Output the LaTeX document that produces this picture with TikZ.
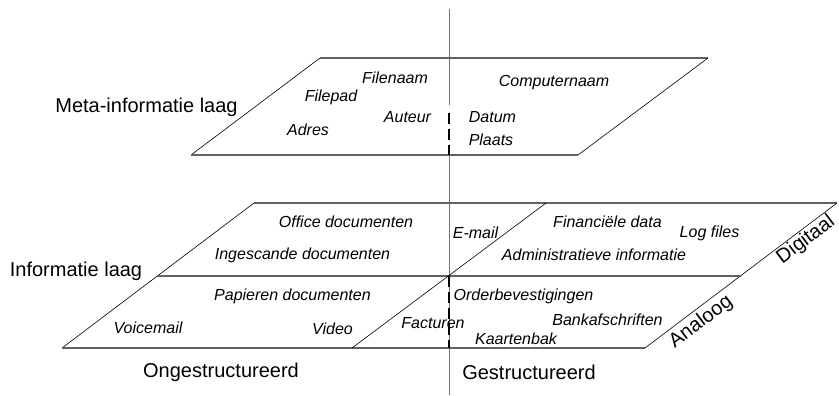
\documentclass[tikz,border=0pt]{standalone}
\usepackage{fontspec}
\setmainfont{Liberation Sans}
\begin{document}
\begin{tikzpicture}[x=1bp,y=-1bp,
  edge/.style={draw=black!62, line width=1.1bp},
  slant/.style={draw=black, line width=0.6bp},
  axis/.style={draw=black!55, line width=1bp},
  dashseg/.style={draw=black, line width=2.4bp, dash pattern=on 11bp off 5bp},
  lbl/.style={font=\fontsize{16bp}{18bp}\selectfont\itshape, inner sep=0pt},
  big/.style={font=\fontsize{20bp}{22bp}\selectfont, inner sep=0pt}]
\useasboundingbox (0,0) rectangle (839,395);
% corners
\coordinate (mbl) at (191,155);
\coordinate (mbr) at (578,155);
\coordinate (mtr) at (708,58);
\coordinate (mtl) at (320,58);
\coordinate (ibl) at (62,348);
\coordinate (ibr) at (645,348);
\coordinate (itr) at (837,203);
\coordinate (itl) at (254,203);
\coordinate (iml) at (157,276);
\coordinate (imr) at (741,276);
\coordinate (dbot) at (352,348);
\coordinate (dtop) at (546,203);
\coordinate (vtop) at (449,9);
\coordinate (vmeta) at (449,105);
\coordinate (dm1) at (449,113);
\coordinate (dm2) at (449,155);
\coordinate (dl1) at (449,276);
\coordinate (dl2) at (449,348);
\coordinate (vbot) at (449,395);
% vertical axis
\draw[axis] (vtop) -- (vmeta);
\draw[axis] (dm2) -- (vbot);
% meta plane
\draw[slant] (mbl) -- (mtl);
\draw[edge] (mtl) -- (mtr);
\draw[slant] (mtr) -- (mbr);
\draw[edge] (mbr) -- (mbl);
% info plane
\draw[slant] (ibl) -- (itl);
\draw[edge] (itl) -- (itr);
\draw[slant] (itr) -- (ibr);
\draw[edge] (ibr) -- (ibl);
\draw[edge] (iml) -- (imr);
\draw[slant] (dbot) -- (dtop);
% dashed segments
\draw[dashseg] (dm1) -- (dm2);
\draw[dashseg] (dl1) -- (dl2);
% big labels
\node[big] (metalaag) at (146.5,107) {Meta-informatie laag};
\node[big] (infolaag) at (76,271) {Informatie laag};
\node[big] (onge) at (221,372) {Ongestructureerd};
\node[big] (gestr) at (529,372) {Gestructureerd};
\node[big, rotate=36.87] (digi) at (806,240) {Digitaal};
\node[big, rotate=36.87] (analoog) at (701,322) {Analoog};
% meta labels
\node[lbl] (filenaam) at (395,78) {Filenaam};
\node[lbl] (computernaam) at (554,83) {Computernaam};
\node[lbl] (filepad) at (331,97) {Filepad};
\node[lbl] (auteur) at (407.5,117) {Auteur};
\node[lbl] (datum) at (492.5,117) {Datum};
\node[lbl] (adres) at (308,130) {Adres};
\node[lbl] (plaats) at (491,140) {Plaats};
% info labels
\node[lbl] (office) at (346,222) {Office documenten};
\node[lbl] (ingescande) at (302.5,255) {Ingescande documenten};
\node[lbl] (email) at (475.5,233) {E-mail};
\node[lbl] (financieel) at (607.5,222) {Financiële data};
\node[lbl] (logfiles) at (709.5,233) {Log files};
\node[lbl] (admin) at (594,255) {Administratieve informatie};
\node[lbl] (papieren) at (292.5,296) {Papieren documenten};
\node[lbl] (order) at (523.5,296) {Orderbevestigingen};
\node[lbl] (voicemail) at (148,328) {Voicemail};
\node[lbl] (video) at (332.5,329) {Video};
\node[lbl] (facturen) at (433,323) {Facturen};
\node[lbl] (bank) at (607.5,320) {Bankafschriften};
\node[lbl] (kaartenbak) at (516,339) {Kaartenbak};
\end{tikzpicture}
\end{document}
